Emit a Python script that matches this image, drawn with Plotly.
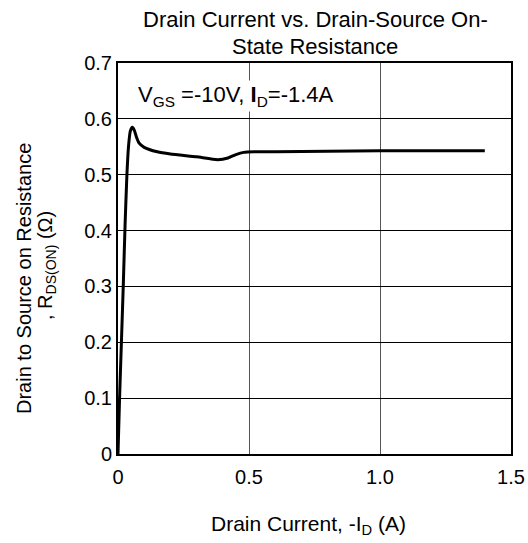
import plotly.graph_objects as go

drain_current = [0.0, 0.006, 0.013, 0.02, 0.027, 0.034, 0.04, 0.047, 0.055, 0.062, 0.07, 0.08, 0.1, 0.15, 0.2, 0.3, 0.38, 0.42, 0.45, 0.48, 0.52, 0.6, 0.8, 1.0, 1.2, 1.4]
resistance = [0.0, 0.1, 0.2, 0.3, 0.41, 0.5, 0.55, 0.578, 0.585, 0.58, 0.568, 0.557, 0.549, 0.541, 0.537, 0.532, 0.527, 0.53, 0.536, 0.54, 0.541, 0.541, 0.542, 0.543, 0.543, 0.543]

x_ticks = [0, 0.5, 1.0, 1.5]
x_labels = ["0", "0.5", "1.0", "1.5"]
y_ticks = [0, 0.1, 0.2, 0.3, 0.4, 0.5, 0.6, 0.7]
y_labels = ["0", "0.1", "0.2", "0.3", "0.4", "0.5", "0.6", "0.7"]

font = "Liberation Sans, Arial, sans-serif"
W, H = 528, 543
L, R, T, B = 118, 17, 63, 89
PW, PH = W - L - R, H - T - B

fig = go.Figure()
fig.add_trace(go.Scatter(x=drain_current, y=resistance, mode="lines",
                         line=dict(color="black", width=3, shape="spline", smoothing=0.5),
                         showlegend=False, hoverinfo="skip"))

fig.update_layout(
    width=W, height=H,
    margin=dict(l=L, r=R, t=T, b=B),
    paper_bgcolor="white", plot_bgcolor="white",
    font=dict(family=font, size=21, color="black"),
    xaxis=dict(range=[0, 1.5], tickvals=x_ticks, ticktext=x_labels,
               showgrid=True, gridcolor="#555", gridwidth=1,
               showline=True, linecolor="black", linewidth=2, mirror=True,
               zeroline=False, ticks="", ticklen=0, tickfont=dict(size=20),
               ticklabelstandoff=4, automargin=False),
    yaxis=dict(range=[0, 0.7], tickvals=y_ticks, ticktext=y_labels,
               showgrid=True, gridcolor="black", gridwidth=1,
               showline=True, linecolor="black", linewidth=2, mirror=True,
               zeroline=False, ticks="", ticklen=0, tickfont=dict(size=20),
               automargin=False),
)

px_x = lambda p: (p - L) / PW
px_y = lambda p: (H - B - p) / PH

# Title
fig.add_annotation(x=px_x(315), y=px_y(19), xref="paper", yref="paper",
                   xanchor="center", yanchor="middle", showarrow=False,
                   text="Drain Current vs. Drain-Source On-", font=dict(size=22))
fig.add_annotation(x=px_x(315), y=px_y(46), xref="paper", yref="paper",
                   xanchor="center", yanchor="middle", showarrow=False,
                   text="State Resistance", font=dict(size=22))
# X axis title
fig.add_annotation(x=px_x(308), y=px_y(525), xref="paper", yref="paper",
                   xanchor="center", yanchor="middle", showarrow=False,
                   text="Drain Current, -I<sub>D</sub> (A)", font=dict(size=21))
# Y axis title
fig.add_annotation(x=px_x(24), y=px_y(279), xref="paper", yref="paper",
                   xanchor="center", yanchor="middle", showarrow=False, textangle=-90,
                   text="Drain to Source on Resistance", font=dict(size=20))
fig.add_annotation(x=px_x(46), y=px_y(266), xref="paper", yref="paper",
                   xanchor="center", yanchor="middle", showarrow=False, textangle=-90,
                   text=", R<sub>DS(ON)</sub> (Ω)", font=dict(size=20))

# Condition label
fig.add_annotation(x=px_x(136), y=px_y(96), xref="paper", yref="paper",
                   xanchor="left", yanchor="middle",
                   text="V<sub>GS</sub> =-10V, <b>I</b><sub>D</sub>=-1.4A", showarrow=False,
                   bgcolor="white", font=dict(family=font, size=22, color="black"))

fig.write_html("out.html", config={"displayModeBar": False},
               post_script="document.body.style.margin='0';document.body.style.overflow='hidden';")
